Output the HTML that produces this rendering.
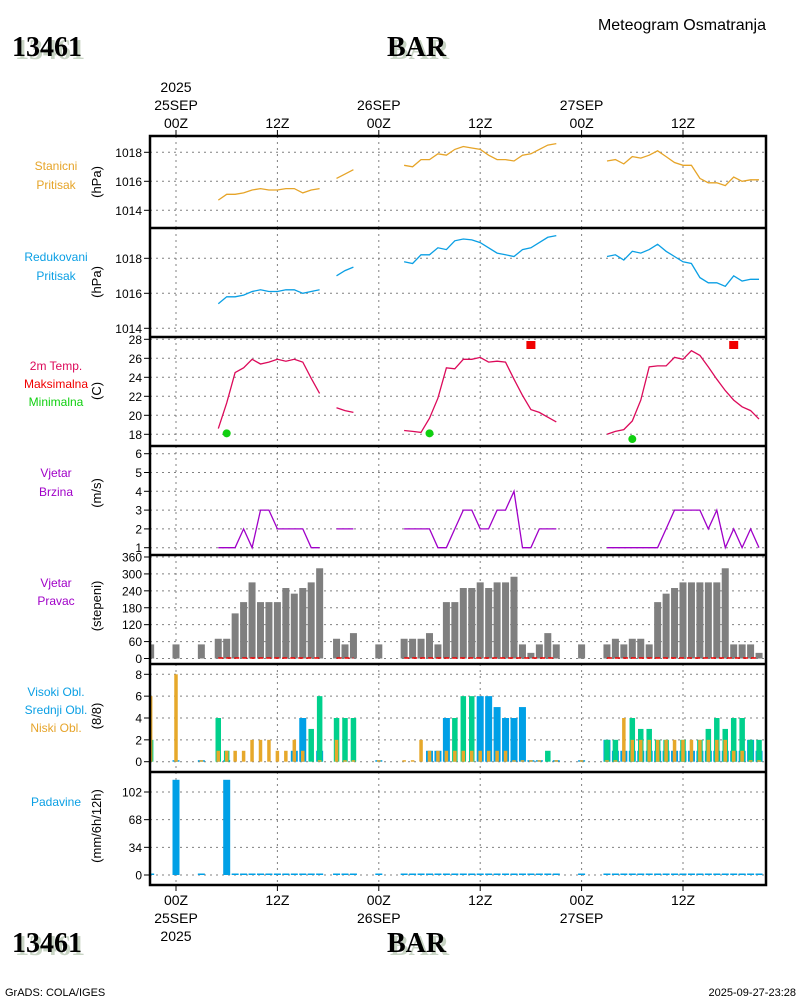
<!DOCTYPE html>
<html><head><meta charset="utf-8"><style>
html,body{margin:0;padding:0;background:#fff;}
svg{display:block;font-family:"Liberation Sans",sans-serif;}
.tit{font-family:"Liberation Serif",serif;font-weight:bold;font-size:28px;}
</style></head><body>
<svg id="chart" width="800" height="1000" viewBox="0 0 800 1000" xmlns="http://www.w3.org/2000/svg">
<rect x="0" y="0" width="800" height="1000" fill="#fff"/>
<g>
<text x="15" y="59" class="tit" fill="#c8d4c4">13461</text>
<text x="12" y="56" class="tit" fill="#000">13461</text>
<text x="390" y="59" class="tit" fill="#c8d4c4">BAR</text>
<text x="387" y="56" class="tit" fill="#000">BAR</text>
<text x="766" y="30" font-size="16" text-anchor="end">Meteogram Osmatranja</text>
</g>
<g>
<text x="15" y="955" class="tit" fill="#c8d4c4">13461</text>
<text x="12" y="952" class="tit" fill="#000">13461</text>
<text x="390" y="955" class="tit" fill="#c8d4c4">BAR</text>
<text x="387" y="952" class="tit" fill="#000">BAR</text>
</g>
<text x="5" y="996" font-size="11">GrADS: COLA/IGES</text>
<text x="796" y="996" font-size="11" text-anchor="end">2025-09-27-23:28</text>
<g id="layer"></g>
</svg>
<script>
const n = null;
const hours = [-3,-2,-1,0,1,2,3,4,5,6,7,8,9,10,11,12,13,14,15,16,17,18,19,20,21,22,23,24,25,26,27,28,29,30,31,32,33,34,35,36,37,38,39,40,41,42,43,44,45,46,47,48,49,50,51,52,53,54,55,56,57,58,59,60,61,62,63,64,65,66,67,68,69];
const stationPressure = [n,n,n,n,n,n,n,n,
 1014.7,1015.1,1015.1,1015.2,1015.4,1015.5,1015.4,1015.4,1015.5,1015.5,1015.2,1015.4,1015.5,
 n,1016.2,1016.5,1016.8,n,n,n,n,n,
 1017.1,1017.0,1017.5,1017.5,1017.9,1017.8,1018.2,1018.4,1018.3,1018.2,1017.8,1017.5,1017.5,1017.4,1017.8,1017.9,1018.2,1018.5,1018.6,
 n,n,n,n,n,
 1017.4,1017.5,1017.2,1017.7,1017.6,1017.8,1018.1,1017.7,1017.3,1017.1,1017.1,1016.2,1015.9,1015.9,1015.7,1016.3,1016.0,1016.1,1016.1];
const reducedPressure = [n,n,n,n,n,n,n,n,
 1015.4,1015.8,1015.8,1015.9,1016.1,1016.2,1016.1,1016.1,1016.2,1016.2,1016.0,1016.1,1016.2,
 n,1017.0,1017.3,1017.5,n,n,n,n,n,
 1017.8,1017.7,1018.2,1018.2,1018.6,1018.5,1019.0,1019.1,1019.05,1018.9,1018.6,1018.3,1018.2,1018.1,1018.5,1018.6,1018.9,1019.2,1019.3,
 n,n,n,n,n,
 1018.1,1018.2,1017.9,1018.4,1018.3,1018.5,1018.8,1018.4,1018.1,1017.8,1017.7,1016.9,1016.6,1016.6,1016.4,1017.0,1016.7,1016.8,1016.8];
const temperature = [n,n,n,n,n,n,n,n,
 18.6,21.3,24.5,25.0,25.9,25.4,25.6,25.9,25.7,25.9,25.6,23.9,22.3,
 n,20.8,20.5,20.3,n,n,n,n,n,
 18.4,18.3,18.2,19.7,21.8,25.0,24.9,25.9,25.9,26.1,25.6,25.7,25.6,23.8,22.1,20.6,20.3,19.8,19.3,
 n,n,n,n,n,
 18.0,18.3,18.5,19.4,21.6,25.1,25.2,25.2,26.1,25.9,26.8,26.3,25.1,23.8,22.6,21.6,20.9,20.5,19.6];
const tmaxHours = [42,66];
const tmaxValues = [27.4,27.4];
const tminHours = [6,30,54];
const tminValues = [18.1,18.1,17.5];
const windSpeed = [n,n,n,n,n,n,n,n,
 1,1,1,2,1,3,3,2,2,2,2,1,1,
 n,2,2,2,n,n,n,n,n,
 2,2,2,2,1,1,2,3,3,2,2,3,3,4,1,1,2,2,2,
 n,n,n,n,n,
 1,1,1,1,1,1,1,2,3,3,3,3,2,3,1,2,1,2,1];
const windDir = [50,n,n,50,n,n,50,n,
 70,70,160,200,270,200,200,200,250,230,250,270,320,
 n,70,50,90,n,n,50,n,n,
 70,70,70,90,50,200,200,250,250,270,250,270,270,290,50,20,50,90,50,
 n,n,50,n,n,
 50,70,50,70,70,50,200,230,250,270,270,270,270,270,320,50,50,50,20];
const cloudHigh = [n,n,n,0,n,n,0,n,
 n,0,n,n,n,n,n,n,n,1,4,n,1,
 n,n,n,n,n,n,0,n,n,
 n,n,n,1,1,4,n,n,n,6,6,5,4,4,5,0,0,n,0,
 n,n,0,n,n,
 2,1,1,1,1,1,1,1,1,1,1,1,1,1,1,1,1,2,1];
const cloudMid = [2,n,n,n,n,n,n,n,
 4,1,n,n,n,n,n,n,n,n,n,3,6,
 n,4,4,4,n,n,n,n,n,
 n,n,n,n,n,n,4,6,6,n,n,n,n,n,n,n,n,1,n,
 n,n,n,n,n,
 2,2,n,4,3,3,2,2,n,2,n,2,3,4,3,4,4,2,2];
const cloudLow = [6,n,n,8,n,n,0,n,
 1,1,1,1,2,2,2,1,1,2,1,n,0,
 n,2,0,0,n,n,0,n,n,
 0,0,2,1,1,1,1,1,1,1,1,1,1,0,0,0,0,n,0,
 n,n,0,n,n,
 0,0,4,2,2,2,2,2,2,2,2,2,2,2,2,1,1,0,0];
const precip = [0,n,n,117,n,n,0,n,
 n,117,0,0,0,0,0,0,0,0,0,0,0,
 n,0,0,0,n,n,0,n,n,
 0,0,0,0,0,0,0,0,0,0,0,0,0,0,0,0,0,0,0,
 n,n,0,n,n,
 0,0,0,0,0,0,0,0,0,0,0,0,0,0,0,0,0,0,0];
const yTicksP1 = [1014,1016,1018];
const yTicksP2 = [1014,1016,1018];
const yTicksP3 = [18,20,22,24,26,28];
const yTicksP4 = [1,2,3,4,5,6];
const yTicksP5 = [0,60,120,180,240,300,360];
const yTicksP6 = [0,2,4,6,8];
const yTicksP7 = [0,34,68,102];
const timeTicks = [0,12,24,36,48,60];
const timeLabels = ["00Z","12Z","00Z","12Z","00Z","12Z"];
const dayLabels = ["25SEP","","26SEP","","27SEP",""];

const NS="http://www.w3.org/2000/svg";
const layer=document.getElementById('layer');
const L=150, R=766;
function X(t){return 176+t*8.45;}
function lin(v0,y0,v1,y1){return v=>y0+(v-v0)*(y1-y0)/(v1-v0);}
const Y1=lin(1014,210.3,1018,152.3);
const Y2=lin(1014,328.3,1018,258.3);
const Y3=lin(18,434.3,28,339.3);
const Y4=lin(1,547.7,6,453.7);
const Y5=lin(0,658.5,360,557);
const Y6=lin(0,761.7,8,674.3);
const Y7=lin(0,875,102,792);
function el(tag,attrs,parent){const e=document.createElementNS(NS,tag);for(const k in attrs)e.setAttribute(k,attrs[k]);(parent||layer).appendChild(e);return e;}
function txt(s,x,y,attrs,parent){const e=el('text',Object.assign({x:x,y:y},attrs),parent);e.textContent=s;return e;}

const panels=[
 {top:136,bot:228,ticks:yTicksP1,Y:Y1,name:'station-pressure-panel'},
 {top:228,bot:337,ticks:yTicksP2,Y:Y2,name:'reduced-pressure-panel'},
 {top:337,bot:446,ticks:yTicksP3,Y:Y3,name:'temperature-panel'},
 {top:446,bot:555,ticks:yTicksP4,Y:Y4,name:'wind-speed-panel'},
 {top:555,bot:664,ticks:yTicksP5,Y:Y5,name:'wind-direction-panel'},
 {top:664,bot:772,ticks:yTicksP6,Y:Y6,name:'cloud-panel'},
 {top:772,bot:885,ticks:yTicksP7,Y:Y7,name:'precip-panel'}
];
const grid=el('g',{});


panels.forEach(p=>{
 const g=el('g',{},grid);
 
 
 p.ticks.forEach(v=>{
  const y=p.Y(v);
  el('line',{x1:L,x2:R,y1:y,y2:y,stroke:'#808080','stroke-width':1,'stroke-dasharray':'2,4'},g);
  el('line',{x1:L-6,x2:L,y1:y,y2:y,stroke:'#000','stroke-width':1},g);
  const t=txt(String(v),L-8,y+4.5,{'font-size':12,'text-anchor':'end'},g);
  
  
 });
 timeTicks.forEach(tt=>{
  el('line',{x1:X(tt),x2:X(tt),y1:p.top,y2:p.bot,stroke:'#808080','stroke-width':1,'stroke-dasharray':'2,4'},g);
 });
});
timeTicks.forEach((tt,i)=>{
 const x=X(tt);
 el('line',{x1:x,x2:x,y1:130,y2:136,stroke:'#000'});
 el('line',{x1:x,x2:x,y1:885,y2:891,stroke:'#000'});
 const a=txt(timeLabels[i],x,128,{'font-size':14,'text-anchor':'middle'});
 
 
 const b=txt(timeLabels[i],x,905,{'font-size':14,'text-anchor':'middle'});
 
 
 if(dayLabels[i]){
  txt(dayLabels[i],x,110,{'font-size':14,'text-anchor':'middle'});
  txt(dayLabels[i],x,923,{'font-size':14,'text-anchor':'middle'});
 }
});
txt('2025',X(0),92,{'font-size':14,'text-anchor':'middle'});
txt('2025',X(0),941,{'font-size':14,'text-anchor':'middle'});

const defs=el('defs',{});
const cp=el('clipPath',{id:'plotclip'},defs);
el('rect',{x:L,y:136,width:R-L,height:749},cp);
const data=el('g',{'clip-path':'url(#plotclip)'});



function drawLine(vals,Y,color,name){
 const g=el('g',{},data);
 
 
 let seg=[];
 const flush=()=>{if(seg.length>1){const pl=el('polyline',{points:seg.join(' '),fill:'none',stroke:color,'stroke-width':1.3},g);}seg=[];};
 vals.forEach((v,i)=>{if(v===null){flush();}else seg.push(X(hours[i]).toFixed(1)+','+Y(v).toFixed(1));});
 flush();
}
function drawBars(vals,Y,color,w,name){
 const g=el('g',{},data);
 
 
 vals.forEach((v,i)=>{
  if(v===null)return;
  const x=X(hours[i]);const y0=Y(0);let y=Y(v);
  if(y0-y<1.5)y=y0-1.5;
  const r=el('rect',{x:x-w/2,y:y,width:w,height:y0-y,fill:color},g);
  
  
 });
}
drawLine(stationPressure,Y1,'#e6a428','station-pressure-line');
drawLine(reducedPressure,Y2,'#0a9fe4','reduced-pressure-line');
drawLine(temperature,Y3,'#dc0a5a','temperature-line');
tmaxHours.forEach((h,i)=>{
 const r=el('rect',{x:X(h)-4.5,y:Y3(tmaxValues[i])-4,width:9,height:8,fill:'#f00000'},data);
 
 
});
tminHours.forEach((h,i)=>{
 const c=el('circle',{cx:X(h),cy:Y3(tminValues[i]),r:4,fill:'#10d010'},data);
 
 
});
drawLine(windSpeed,Y4,'#a000c8','wind-speed-line');
drawBars(windDir,Y5,'#7f7f7f',7,'wind-direction');
const zeroLine=temperature.map(v=>v===null?null:0);
(function(){
 const g=el('g',{},data);
 
 
 let seg=[];
 const flush=()=>{if(seg.length>1)el('polyline',{points:seg.join(' '),fill:'none',stroke:'#f00000','stroke-width':1.5,'stroke-dasharray':'5,3'},g);seg=[];};
 zeroLine.forEach((v,i)=>{if(v===null)flush();else seg.push(X(hours[i])+','+(Y5(v)-0.5));});
 flush();
})();
drawBars(cloudHigh,Y6,'#00a0e6',7,'cloud-high');
drawBars(cloudMid,Y6,'#00d08c',5.5,'cloud-mid');
drawBars(cloudLow,Y6,'#e6a82a',3.5,'cloud-low');
drawBars(precip,Y7,'#00a0e6',7,'precipitation');

const fr=el('g',{});


el('rect',{x:L,y:136,width:R-L,height:749,fill:'none',stroke:'#000','stroke-width':2.5},fr);
panels.slice(1).forEach(p=>el('line',{x1:L,x2:R,y1:p.top,y2:p.top,stroke:'#000','stroke-width':2.5},fr));

const labels=[
 [['Stanicni','#e6a428',170],['Pritisak','#e6a428',189]],
 [['Redukovani','#0a9fe4',261],['Pritisak','#0a9fe4',280]],
 [['2m Temp.','#dc0a5a',370],['Maksimalna','#f00000',388],['Minimalna','#10d010',406]],
 [['Vjetar','#a000c8',477],['Brzina','#a000c8',496]],
 [['Vjetar','#a000c8',587],['Pravac','#a000c8',605]],
 [['Visoki Obl.','#0a9fe4',696],['Srednji Obl.','#0a9fe4',714],['Niski Obl.','#e6a42a',732]],
 [['Padavine','#0a9fe4',806]]
];
labels.forEach(lst=>lst.forEach(([s,c,y])=>{
 const t=txt(s,56,y,{'font-size':12,'text-anchor':'middle',fill:c});
 
 
}));
const units=[['(hPa)',182],['(hPa)',282],['(C)',391],['(m/s)',493],['(stepeni)',606],['(8/8)',716],['(mm/6h/12h)',826]];
units.forEach(([s,y])=>{
 const t=txt(s,0,0,{'font-size':13,'text-anchor':'middle',transform:'translate(101,'+y+') rotate(-90)'});
 
 
});
</script>
</body></html>
